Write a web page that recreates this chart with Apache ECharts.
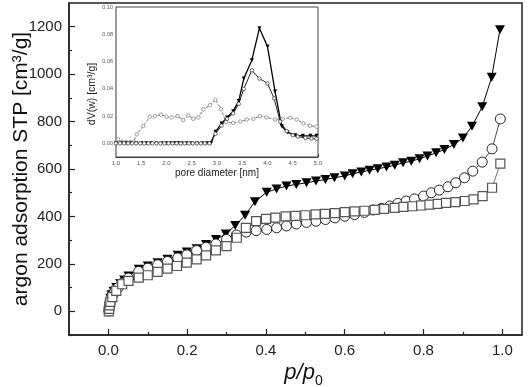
<!DOCTYPE html>
<html><head><meta charset="utf-8">
<script src="https://cdn.jsdelivr.net/npm/echarts@6/dist/echarts.min.js"></script>
<style>html,body{margin:0;padding:0;background:#fff}#c{width:528px;height:387px}</style>
</head><body><div id="c"></div>
<script>
// ---- main isotherms: [p/p0, volume] ----
const triMain = [[0.001,5],[0.002,20],[0.003,35],[0.005,55],[0.008,70],[0.013,85],[0.02,100],[0.03,117],[0.04,132],[0.051,149],[0.077,177],[0.1,191],[0.125,205],[0.15,219],[0.176,236],[0.199,250],[0.224,264],[0.248,282],[0.273,303],[0.298,326],[0.322,362],[0.347,405],[0.372,462],[0.402,502],[0.427,516],[0.452,528],[0.477,535],[0.503,542],[0.527,549],[0.551,556],[0.574,563],[0.6,571],[0.62,580],[0.642,587],[0.663,595],[0.684,601],[0.706,608],[0.727,616],[0.748,626],[0.769,633],[0.79,643],[0.81,655],[0.832,668],[0.853,682],[0.877,703],[0.9,731],[0.923,780],[0.949,862],[0.973,987],[0.994,1187]];
const cirMain = [[0.001,2],[0.002,15],[0.004,30],[0.006,48],[0.01,65],[0.016,82],[0.025,100],[0.035,118],[0.051,140],[0.077,168],[0.1,182],[0.125,196],[0.15,210],[0.176,225],[0.199,238],[0.224,256],[0.248,270],[0.273,284],[0.3,303],[0.325,322],[0.35,334],[0.375,340],[0.402,345],[0.427,352],[0.452,360],[0.477,368],[0.503,375],[0.527,380],[0.551,387],[0.575,394],[0.6,401],[0.625,408],[0.65,417],[0.672,427],[0.693,434],[0.714,444],[0.735,455],[0.756,465],[0.777,474],[0.8,486],[0.82,500],[0.84,511],[0.862,525],[0.882,542],[0.904,563],[0.925,591],[0.949,629],[0.974,685],[0.995,811]];
const sqMain = [[0.001,0],[0.002,10],[0.003,25],[0.005,40],[0.01,60],[0.02,86],[0.035,114],[0.051,128],[0.077,142],[0.1,152],[0.125,166],[0.15,180],[0.174,191],[0.199,205],[0.224,219],[0.248,236],[0.273,257],[0.3,275],[0.326,310],[0.349,352],[0.375,380],[0.4,390],[0.424,395],[0.45,400],[0.475,402],[0.5,405],[0.526,409],[0.55,411],[0.575,414],[0.6,418],[0.625,421],[0.65,424],[0.676,428],[0.7,432],[0.727,436],[0.749,440],[0.772,443],[0.794,446],[0.815,450],[0.836,453],[0.857,457],[0.881,460],[0.905,465],[0.927,472],[0.95,486],[0.974,521],[0.995,623]];

// ---- inset pore size distributions: [pore diameter nm, dV(w)] ----
const triInset = [[1.0,0],[1.1,0],[1.2,0],[1.3,0],[1.4,0],[1.5,0],[1.6,0],[1.7,0],[1.8,0],[1.9,0],[2.0,0],[2.1,0],[2.15,0],[2.2,0],[2.25,0],[2.3,0],[2.4,0],[2.5,0],[2.6,0],[2.7,0],[2.8,0],[2.88,0],[2.97,0.0085],[3.09,0.0146],[3.2,0.019],[3.32,0.0236],[3.43,0.031],[3.53,0.0475],[3.69,0.061],[3.84,0.0845],[4.0,0.071],[4.15,0.038],[4.28,0.0127],[4.4,0.008],[4.55,0.006],[4.7,0.0055],[4.85,0.0055],[4.97,0.0055]];
const cirInset = [[1.0,0],[1.08,0],[1.16,0],[1.24,0],[1.32,0],[1.4,0],[1.48,0],[1.56,0],[1.64,0],[1.72,0],[1.8,0],[1.88,0],[1.96,0],[2.04,0],[2.12,0],[2.2,0],[2.28,0],[2.36,0],[2.44,0],[2.52,0],[2.6,0],[2.68,0],[2.76,0],[2.85,0],[2.97,0.007],[3.09,0.013],[3.2,0.018],[3.32,0.022],[3.43,0.029],[3.53,0.04],[3.69,0.0536],[3.84,0.0475],[4.0,0.044],[4.13,0.033],[4.25,0.016],[4.38,0.009],[4.5,0.006],[4.6,0.005],[4.75,0.004],[4.87,0.0035],[4.97,0.0034]];
const greyInset = [[1.04,0.003],[1.12,0.0012],[1.2,0.001],[1.28,0.001],[1.35,0.0012],[1.41,0.0066],[1.54,0.0127],[1.67,0.0195],[1.77,0.02],[1.89,0.021],[2.0,0.0195],[2.1,0.019],[2.22,0.02],[2.33,0.017],[2.43,0.0205],[2.53,0.018],[2.63,0.019],[2.73,0.025],[2.86,0.028],[2.97,0.032],[3.08,0.025],[3.18,0.0156],[3.32,0.015],[3.46,0.016],[3.59,0.0175],[3.72,0.018],[3.85,0.02],[3.98,0.019],[4.15,0.0175],[4.3,0.018],[4.45,0.0188],[4.58,0.0175],[4.71,0.0146],[4.84,0.013],[4.97,0.0122]];

// ---- tick values ----
const xLabels = [0, 0.2, 0.4, 0.6, 0.8, 1.0];
const xMinor = [0.1, 0.3, 0.5, 0.7, 0.9];
const yLabels = [0, 200, 400, 600, 800, 1000, 1200];
const yMinor = [-100, 100, 300, 500, 700, 900, 1100];
const insetYLabels = [0, 0.02, 0.04, 0.06, 0.08, 0.10];
const insetYMinor = [0.01, 0.03, 0.05, 0.07, 0.09];

const FONT = 'Liberation Sans';
const AX = '#222';

const chart = echarts.init(document.getElementById('c'));
chart.setOption({
  animation: false,
  backgroundColor: '#fff',
  grid: [
    {left: 69, top: 3, right: 6, bottom: 52, show: true, borderColor: AX, borderWidth: 1.5, outerBoundsMode: 'none', containLabel: false},
    {left: 116, top: 7, right: 210, bottom: 230, show: true, backgroundColor: '#fff', borderColor: '#444', borderWidth: 1, z: 5, outerBoundsMode: 'none', containLabel: false}
  ],
  xAxis: [
    {gridIndex: 0, type: 'value', position: 'bottom', min: -0.1, max: 1.05,
     axisLine: {show: true, onZero: false, lineStyle: {color: AX, width: 1.5}},
     axisTick: {show: true, inside: true, length: 6, customValues: xLabels, lineStyle: {color: AX, width: 1.2}},
     axisLabel: {customValues: xLabels, formatter: v => v.toFixed(1), fontSize: 15, color: '#222', fontFamily: FONT, margin: 8},
     splitLine: {show: false},
     name: '{i|p/p}{s|0}', nameLocation: 'middle', nameGap: 23, nameMoveOverlap: false,
     nameTextStyle: {padding: [0, 0, 0, 16], rich: {
       i: {fontSize: 22, fontStyle: 'italic', fontFamily: FONT, color: '#111', lineHeight: 30},
       s: {fontSize: 14, fontFamily: FONT, color: '#111', lineHeight: 10, verticalAlign: 'bottom'}
     }}},
    {gridIndex: 0, type: 'value', position: 'bottom', min: -0.1, max: 1.05,
     axisLine: {show: false, onZero: false},
     axisTick: {show: true, inside: true, length: 3, customValues: xMinor, lineStyle: {color: AX, width: 1.2}},
     axisLabel: {show: false}, splitLine: {show: false}},
    {gridIndex: 1, type: 'value', position: 'bottom', min: 1, max: 5, interval: 0.5,
     axisLine: {show: true, onZero: false, lineStyle: {color: '#333', width: 1}},
     axisTick: {show: true, inside: true, length: 3, lineStyle: {color: '#333'}},
     minorTick: {show: true, splitNumber: 2, length: 2, lineStyle: {color: '#333'}},
     axisLabel: {formatter: v => v.toFixed(1), fontSize: 6, color: '#555', fontFamily: FONT, margin: 3},
     splitLine: {show: false},
     name: 'pore diameter [nm]', nameLocation: 'middle', nameGap: 11, nameMoveOverlap: false,
     nameTextStyle: {fontSize: 10, fontFamily: FONT, color: '#222'}}
  ],
  yAxis: [
    {gridIndex: 0, type: 'value', position: 'left', min: -100, max: 1300,
     axisLine: {show: true, onZero: false, lineStyle: {color: AX, width: 1.5}},
     axisTick: {show: true, inside: true, length: 6, customValues: yLabels, lineStyle: {color: AX, width: 1.2}},
     axisLabel: {customValues: yLabels, formatter: v => String(v), fontSize: 15, color: '#222', fontFamily: FONT, margin: 7},
     splitLine: {show: false},
     name: 'argon adsorption STP [cm\u00b3/g]', nameLocation: 'middle', nameGap: 37, nameMoveOverlap: false,
     nameTextStyle: {fontSize: 21, fontFamily: FONT, color: '#111'}},
    {gridIndex: 0, type: 'value', position: 'left', min: -100, max: 1300,
     axisLine: {show: false, onZero: false},
     axisTick: {show: true, inside: true, length: 3, customValues: yMinor, lineStyle: {color: AX, width: 1.2}},
     axisLabel: {show: false}, splitLine: {show: false}},
    {gridIndex: 1, type: 'value', position: 'left', min: -0.01, max: 0.1,
     axisLine: {show: true, onZero: false, lineStyle: {color: '#222', width: 1.2}},
     axisTick: {show: true, inside: true, length: 3, customValues: insetYLabels, lineStyle: {color: '#333'}},
     axisLabel: {customValues: insetYLabels, formatter: v => v.toFixed(2), fontSize: 5.5, color: '#555', fontFamily: FONT, margin: 3},
     splitLine: {show: false},
     name: 'dV(w) [cm\u00b3/g]', nameLocation: 'middle', nameGap: 18, nameMoveOverlap: false,
     nameTextStyle: {fontSize: 10.5, fontFamily: FONT, color: '#222', padding: [0, 24, 0, 0]}},
    {gridIndex: 1, type: 'value', position: 'left', min: -0.01, max: 0.1,
     axisLine: {show: false, onZero: false},
     axisTick: {show: true, inside: true, length: 2, customValues: insetYMinor, lineStyle: {color: '#333'}},
     axisLabel: {show: false}, splitLine: {show: false}}
  ],
  series: [
    {type: 'line', xAxisIndex: 0, yAxisIndex: 0, data: triMain, symbol: 'triangle', symbolRotate: 180, symbolSize: [10, 9],
     itemStyle: {color: '#000'}, lineStyle: {color: '#000', width: 1}},
    {type: 'line', xAxisIndex: 0, yAxisIndex: 0, data: cirMain, symbol: 'circle', symbolSize: 10,
     itemStyle: {color: '#fff', borderColor: '#222', borderWidth: 1}, lineStyle: {color: '#222', width: 0.8}},
    {type: 'line', xAxisIndex: 0, yAxisIndex: 0, data: sqMain, symbol: 'rect', symbolSize: 9,
     itemStyle: {color: '#fff', borderColor: '#555', borderWidth: 1.2}, lineStyle: {color: '#555', width: 0.8}},
    {type: 'line', xAxisIndex: 2, yAxisIndex: 2, data: greyInset, symbol: 'circle', symbolSize: 3.5, z: 6,
     itemStyle: {color: '#fff', borderColor: '#888', borderWidth: 0.8}, lineStyle: {color: '#777', width: 1, type: [3, 1.5]}},
    {type: 'line', xAxisIndex: 2, yAxisIndex: 2, data: triInset, symbol: 'triangle', symbolRotate: 180, symbolSize: 4, z: 6,
     itemStyle: {color: '#000'}, lineStyle: {color: '#000', width: 1.3}},
    {type: 'line', xAxisIndex: 2, yAxisIndex: 2, data: cirInset, symbol: 'circle', symbolSize: 3.5, z: 6,
     itemStyle: {color: '#fff', borderColor: '#444', borderWidth: 0.8}, lineStyle: {color: '#222', width: 1}}
  ]
});
</script></body></html>
